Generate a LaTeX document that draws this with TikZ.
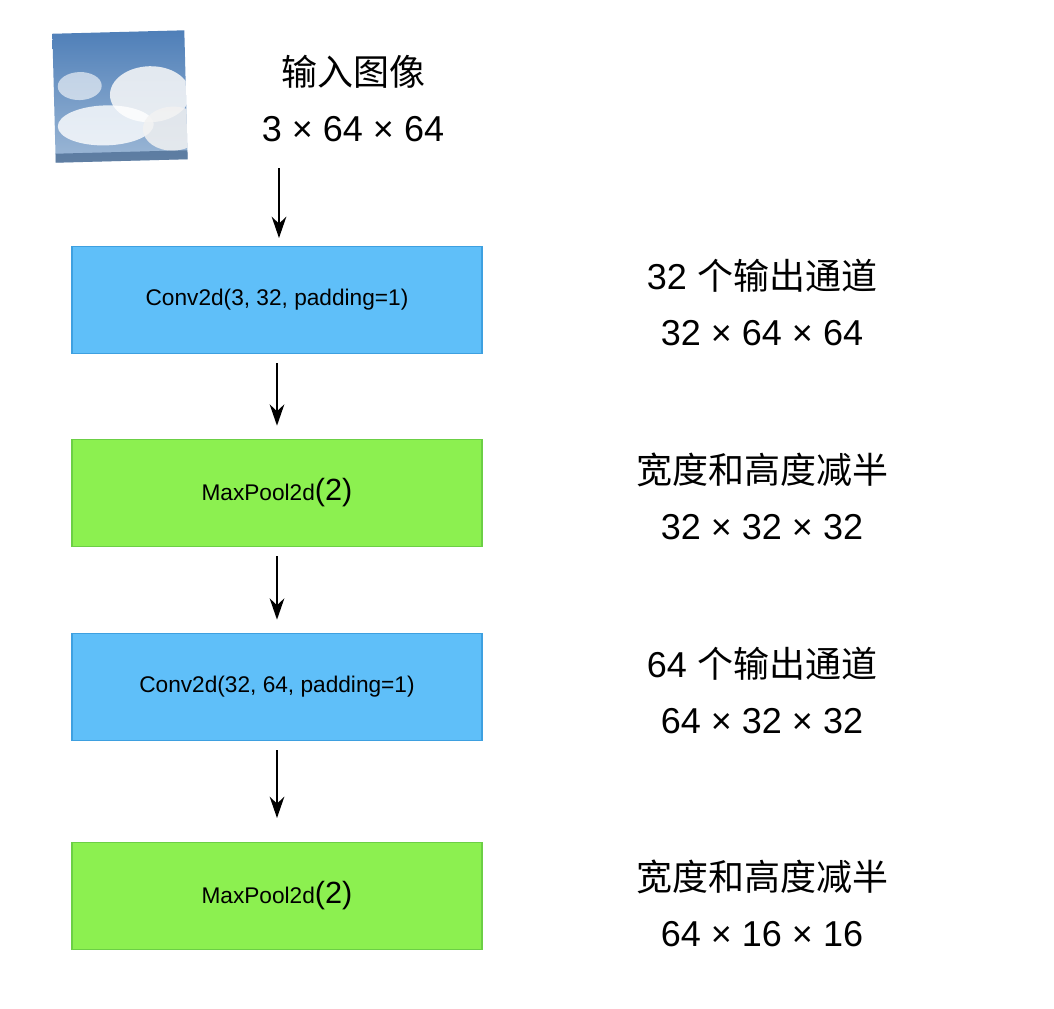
\documentclass[tikz,border=0pt]{standalone}
\usepackage{fontspec}
\setmainfont{Liberation Sans}
\newfontfamily\cjk{Noto Sans CJK SC}
\usetikzlibrary{arrows.meta}
\definecolor{bfill}{HTML}{5FBFF9}\definecolor{bdraw}{HTML}{3EA0E0}
\definecolor{gfill}{HTML}{8CF050}\definecolor{gdraw}{HTML}{6CCF45}
\definecolor{sky1}{HTML}{4F7FB8}\definecolor{sky2}{HTML}{9DB8D6}
\newcommand{\zh}[1]{{\cjk #1}}
\begin{document}
\begin{tikzpicture}[x=0.75pt,y=-0.75pt,
  box/.style={minimum width=307.5pt,minimum height=80pt,line width=1pt,inner sep=0pt,font=\fontsize{17}{19}\selectfont},
  conv/.style={box,fill=bfill,draw=bdraw},
  pool/.style={box,fill=gfill,draw=gdraw},
  lbl/.style={align=center,font=\fontsize{27}{42}\selectfont},
  arr/.style={-{Stealth[length=16pt,width=11pt]},line width=1.5pt}]
\useasboundingbox (0,0) rectangle (1054,1008);
% photo
\begin{scope}[rotate around={1.5:(120,96)}]
\clip (54,32) rectangle (186,161);
\shade[top color=sky1,bottom color=sky2] (54,32) rectangle (186,161);
\fill[white!95!gray,opacity=0.85] (150,95) ellipse (40 and 28);
\fill[white,opacity=0.8] (105,125) ellipse (48 and 20);
\fill[white,opacity=0.6] (80,85) ellipse (22 and 14);
\fill[white!90!gray,opacity=0.85] (172,130) ellipse (30 and 22);
\fill[sky1!70!black,opacity=0.6] (54,152) rectangle (186,161);
\end{scope}
\node[inner sep=0pt] (img) at (120,96) {};
\node[lbl] (in) at (353,98) {\zh{输入图像}\\3 × 64 × 64};
\node[conv] (c1) at (277,300) {Conv2d(3, 32, padding=1)};
\node[pool] (p1) at (277,493) {MaxPool2d{\fontsize{23}{24}\selectfont(2)}};
\node[conv] (c2) at (277,687) {Conv2d(32, 64, padding=1)};
\node[pool] (p2) at (277,896) {MaxPool2d{\fontsize{23}{24}\selectfont(2)}};
\node[lbl] (l1) at (762,302) {32 \zh{个输出通道}\\32 × 64 × 64};
\node[lbl] (l2) at (762,496) {\zh{宽度和高度减半}\\32 × 32 × 32};
\node[lbl] (l3) at (762,690) {64 \zh{个输出通道}\\64 × 32 × 32};
\node[lbl] (l4) at (762,903) {\zh{宽度和高度减半}\\64 × 16 × 16};
\coordinate (a0) at (279,168);
\draw[arr] (a0) -- (279,238);
\draw[arr] ([yshift=-7pt]c1.south) -- ([yshift=10pt]p1.north) ;
\draw[arr] ([yshift=-7pt]p1.south) -- ([yshift=10pt]c2.north);
\draw[arr] ([yshift=-7pt]c2.south) -- ([yshift=18pt]p2.north);
\end{tikzpicture}
\end{document}
